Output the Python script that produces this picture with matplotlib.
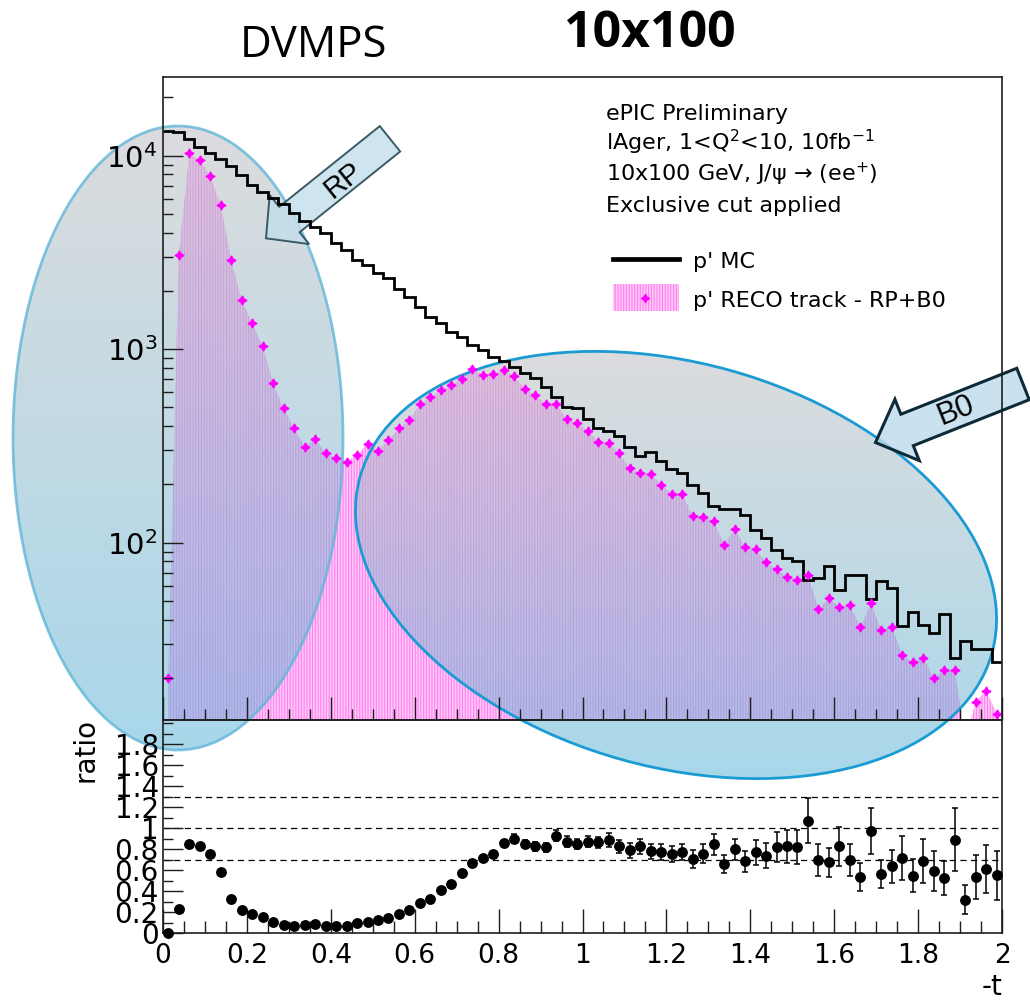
"""ePIC preliminary: DVMPS 10x100, -t of the scattered proton, MC vs RECO (RP+B0)."""

import numpy as np
import matplotlib
matplotlib.use('Agg')
import matplotlib.pyplot as plt
from matplotlib.patches import Ellipse, FancyArrow, Rectangle
from matplotlib.lines import Line2D
from matplotlib.ticker import FuncFormatter, LogLocator, MultipleLocator

W, H = 1030, 1001  # output size in pixels

# -t binning: 80 bins from 0 to 2
t_lo, t_hi, n_bins = 0.0, 2.0, 80

# p' MC counts per bin (black step histogram)
mc_counts = [13400, 13200, 12200, 11050, 10300, 9580, 8850, 7950, 7060, 6520,
             6070, 5630, 5040, 4600, 4300, 3970, 3530, 3260, 2890, 2730,
             2470, 2330, 2040, 1870, 1660, 1470, 1360, 1230, 1160, 1050,
             990, 915, 870, 812, 750, 707, 641, 569, 505, 495,
             434, 391, 376, 357, 314, 281, 296, 263, 240, 229,
             199, 180, 155, 150, 150, 139, 117, 106, 91.3, 83.3,
             80.7, 64.4, 65.7, 76.0, 57.2, 68.3, 68.3, 51.2, 63.1, 58.3,
             37.2, 43.6, 37.7, 34.1, 43.0, 25.3, 31.1, 28.2, 28.2, 24.3]

# p' RECO track counts per bin, RP+B0 (magenta stars + hatched fill)
reco_counts = [20, 3070, 10300, 9500, 7850, 5560, 2890, 1795, 1360, 1040,
               667, 495, 390, 314, 343, 290, 273, 262, 284, 324,
               299, 340, 390, 431, 522, 564, 613, 650, 704, 794,
               733, 741, 778, 725, 623, 580, 521, 521, 434, 417,
               379, 333, 329, 290, 242, 228, 226, 199, 179, 179,
               138, 136, 130, 97.3, 118, 94.7, 92.4, 79.2, 72.9, 66.7,
               64.2, 68.1, 45.3, 51.6, 46.4, 47.6, 36.5, 48.6, 35.4, 36.8,
               26.3, 24.1, 25.3, 20.0, 22.0, 22.0, 9.5, 15.1, 17.2, 13.0]

# RECO / MC ratio (lower pad) and its error
ratio_vals = [0.002, 0.229, 0.847, 0.831, 0.755, 0.581, 0.327, 0.215, 0.181, 0.152,
              0.105, 0.079, 0.063, 0.072, 0.086, 0.070, 0.070, 0.063, 0.095, 0.108,
              0.120, 0.139, 0.184, 0.215, 0.286, 0.327, 0.406, 0.470, 0.571, 0.667,
              0.711, 0.755, 0.857, 0.900, 0.850, 0.825, 0.815, 0.927, 0.872, 0.847,
              0.872, 0.863, 0.889, 0.825, 0.787, 0.825, 0.777, 0.771, 0.755, 0.771,
              0.705, 0.755, 0.847, 0.657, 0.800, 0.682, 0.771, 0.736, 0.819, 0.825,
              0.819, 1.072, 0.698, 0.673, 0.825, 0.698, 0.533, 0.974, 0.562, 0.635,
              0.714, 0.546, 0.682, 0.593, 0.524, 0.889, 0.317, 0.533, 0.610, 0.549]
ratio_errs = [0.001, 0.005, 0.01, 0.01, 0.01, 0.01, 0.008, 0.006, 0.006, 0.006,
              0.005, 0.005, 0.005, 0.005, 0.006, 0.006, 0.006, 0.006, 0.007, 0.008,
              0.008, 0.009, 0.01, 0.012, 0.014, 0.016, 0.018, 0.02, 0.022, 0.025,
              0.027, 0.028, 0.03, 0.04, 0.04, 0.04, 0.04, 0.05, 0.05, 0.05,
              0.055, 0.055, 0.065, 0.065, 0.07, 0.07, 0.075, 0.075, 0.075, 0.08,
              0.085, 0.09, 0.10, 0.085, 0.10, 0.10, 0.12, 0.12, 0.14, 0.16,
              0.16, 0.21, 0.15, 0.14, 0.19, 0.15, 0.13, 0.22, 0.13, 0.16,
              0.21, 0.16, 0.21, 0.19, 0.16, 0.30, 0.14, 0.21, 0.23, 0.23]

ratio_guides = [0.7, 1.0, 1.3]

info_lines = ['ePIC Preliminary',
              r'lAger, 1<Q$^{2}$<10, 10fb$^{-1}$',
              r'10x100 GeV, J/ψ → (ee$^{+}$)',
              'Exclusive cut applied']
legend_labels = ["p' MC", "p' RECO track - RP+B0"]

MAGENTA = '#ff00ff'
STAR = (4, 1, 0)
FILL_FACE = '#ffc8f8'
FILL_HATCH = '#ff80f0'
AX_COL = '#1e1e1e'

plt.rcParams['font.family'] = ['DejaVu Sans']
plt.rcParams['hatch.linewidth'] = 0.8
plt.rcParams['hatch.color'] = FILL_HATCH

edges = np.linspace(t_lo, t_hi, n_bins + 1)
centers = 0.5 * (edges[:-1] + edges[1:])


def px_rect(x0, y0, x1, y1):
    """Axes rect in figure fraction from pixel box (y measured from the top)."""
    return [x0 / W, 1 - y1 / H, (x1 - x0) / W, (y1 - y0) / H]


def style_spines(ax):
    for sp in ax.spines.values():
        sp.set_color(AX_COL)
        sp.set_linewidth(1.2)


fig = plt.figure(figsize=(W / 100, H / 100), dpi=100)

UP = px_rect(163, 77, 1002, 720)
LO = px_rect(163, 720, 1002, 933)
ylim_up = (12.13, 25510)

# upper pad, bottom layer: hatched RECO fill only
ax_up = fig.add_axes(UP)
ax_up.set_yscale('log')
ax_up.fill_between(centers, reco_counts, 1.0, facecolor=FILL_FACE,
                   edgecolor=FILL_HATCH, hatch='||||||', linewidth=0, zorder=1)
ax_up.set_xlim(t_lo, t_hi)
ax_up.set_ylim(*ylim_up)
ax_up.axis('off')

# overlay in pixel coordinates: ellipses, arrows, text block, legend
ax_ov = fig.add_axes([0, 0, 1, 1])
ax_ov.set_zorder(5)
ax_ov.axis('off')
ax_ov.set_autoscale_on(False)
ax_ov.set_xlim(0, W)
ax_ov.set_ylim(H, 0)

top_rgb = np.array([190, 192, 195]) / 255
bot_rgb = np.array([97, 182, 217]) / 255


def shaded_ellipse(cx, cy, a, b, angle, y_top, y_bot, edge, lw, edge_alpha):
    ell = Ellipse((cx, cy), 2 * a, 2 * b, angle=angle, facecolor='none',
                  edgecolor=edge, lw=lw, alpha=edge_alpha, zorder=3)
    ax_ov.add_patch(ell)
    frac = np.linspace(0, 1, 256)[:, None, None]
    img = (1 - frac) * top_rgb[None, None, :] + frac * bot_rgb[None, None, :]
    im = ax_ov.imshow(img, extent=(cx - a - 20, cx + a + 20, y_bot, y_top),
                      origin='upper', aspect='auto', alpha=0.55, zorder=2,
                      interpolation='bilinear')
    im.set_clip_path(ell)


shaded_ellipse(178, 438, 165, 312, 0, 126, 750, '#62b6d8', 2.0, 0.8)
shaded_ellipse(676, 565, 328, 202, 15.6, 352, 779, '#1b9bd3', 2.0, 1.0)

ax_ov.add_patch(FancyArrow(390, 138.8, -124, 99.5, width=32.6, head_width=63,
                           head_length=30, length_includes_head=True,
                           facecolor=(0.76, 0.87, 0.92, 0.8),
                           edgecolor='#3b5964', lw=1.4, zorder=4))
ax_ov.add_patch(FancyArrow(1023, 384, -147.5, 58.5, width=33.8, head_width=66,
                           head_length=34, length_includes_head=True,
                           facecolor=(0.74, 0.86, 0.92, 0.8),
                           edgecolor='#0d2a36', lw=2.2, zorder=4))
ax_ov.text(343, 180, 'RP', rotation=38.7, ha='center', va='center',
           rotation_mode='anchor', fontsize=21, family='Liberation Sans',
           zorder=5)
ax_ov.text(956, 411, 'B0', rotation=21.7, ha='center', va='center',
           rotation_mode='anchor', fontsize=22, family='Liberation Sans',
           zorder=5)

for i, line in enumerate(info_lines):
    ax_ov.text(606.5, 120 + 30.6 * i, line, fontsize=16, va='baseline',
               ha='left', color='black')

ax_ov.add_line(Line2D([613.3, 678.5], [259.3, 259.3], color='black', lw=3.4))
ax_ov.add_patch(Rectangle((612.6, 284.3), 66, 26.7, facecolor=FILL_FACE,
                          edgecolor=FILL_HATCH, hatch='||||||', lw=0))
ax_ov.plot([645.4], [298], ls='none', marker=STAR, ms=6, color=MAGENTA)
ax_ov.text(693.4, 268.3, legend_labels[0], fontsize=16, va='baseline')
ax_ov.text(693.4, 306.7, legend_labels[1], fontsize=16, va='baseline')

fig.text(313 / W, 1 - 56.7 / H, 'DVMPS', family='Open Sans', fontsize=31.5,
         ha='center', va='baseline')
fig.text(649.5 / W, 1 - 46.7 / H, '10x100', family='Open Sans',
         fontweight='bold', fontsize=36, ha='center', va='baseline')

# upper pad, top layer: MC line, RECO stars, frame and axis over the ellipses
ax_fg = fig.add_axes(UP)
ax_fg.set_zorder(6)
ax_fg.patch.set_alpha(0)
ax_fg.set_yscale('log')
ax_fg.stairs(mc_counts, edges, color='black', lw=2.0, baseline=None)
ax_fg.plot(centers, reco_counts, ls='none', marker=STAR, ms=6.5, color=MAGENTA)
ax_fg.set_xlim(t_lo, t_hi)
ax_fg.set_ylim(*ylim_up)
ax_fg.set_axisbelow(False)
ax_fg.xaxis.set_major_locator(MultipleLocator(0.2))
ax_fg.xaxis.set_minor_locator(MultipleLocator(0.05))
ax_fg.yaxis.set_major_locator(LogLocator(base=10))
ax_fg.yaxis.set_minor_locator(LogLocator(base=10, subs=np.arange(2, 10)))
ax_fg.tick_params(axis='x', which='both', direction='in', top=False,
                  labelbottom=False, color=AX_COL)
ax_fg.tick_params(axis='x', which='major', length=16.5, width=1)
ax_fg.tick_params(axis='x', which='minor', length=7.7, width=1)
ax_fg.tick_params(axis='y', which='both', direction='in', right=False,
                  color=AX_COL, labelsize=21, pad=4)
ax_fg.tick_params(axis='y', which='major', length=14.4, width=1)
ax_fg.tick_params(axis='y', which='minor', length=7.2, width=1)
style_spines(ax_fg)

# lower pad: ratio, transparent so the ellipses show through
ax_lo = fig.add_axes(LO)
ax_lo.set_zorder(7)
ax_lo.patch.set_alpha(0)
for g in ratio_guides:
    ax_lo.axhline(g, color='black', lw=0.9, ls=(0, (5, 3.5)), zorder=1)
ax_lo.errorbar(centers, ratio_vals, yerr=ratio_errs, fmt='o', color='black',
               ms=6.8, elinewidth=1.1, capsize=2.2, capthick=1.1,
               clip_on=False, zorder=3)
ax_lo.set_xlim(t_lo, t_hi)
ax_lo.set_ylim(0, 2.03)
fmt = FuncFormatter(lambda v, p: f'{v:g}')
ax_lo.xaxis.set_major_locator(MultipleLocator(0.2))
ax_lo.xaxis.set_minor_locator(MultipleLocator(0.05))
ax_lo.yaxis.set_minor_locator(MultipleLocator(0.1))
ax_lo.xaxis.set_major_formatter(fmt)
ax_lo.set_yticks(np.arange(0, 1.81, 0.2))
ax_lo.yaxis.set_major_formatter(fmt)
ax_lo.tick_params(axis='x', which='both', direction='in', top=False,
                  color=AX_COL, labelsize=19, pad=7)
ax_lo.tick_params(axis='x', which='major', length=17.3, width=1)
ax_lo.tick_params(axis='x', which='minor', length=8.6, width=1)
ax_lo.tick_params(axis='y', which='both', direction='in', right=False,
                  color=AX_COL, labelsize=20, pad=3)
ax_lo.tick_params(axis='y', which='major', length=14.4, width=1)
ax_lo.tick_params(axis='y', which='minor', length=7.2, width=1)
ax_lo.set_xlabel('-t', fontsize=20, ha='right', va='center')
ax_lo.xaxis.set_label_coords(1.0, -0.252)
ax_lo.set_ylabel('ratio', fontsize=20, ha='center', va='center')
ax_lo.yaxis.set_label_coords(-0.092, 0.859)
style_spines(ax_lo)

fig.savefig('out.png', dpi=100)
